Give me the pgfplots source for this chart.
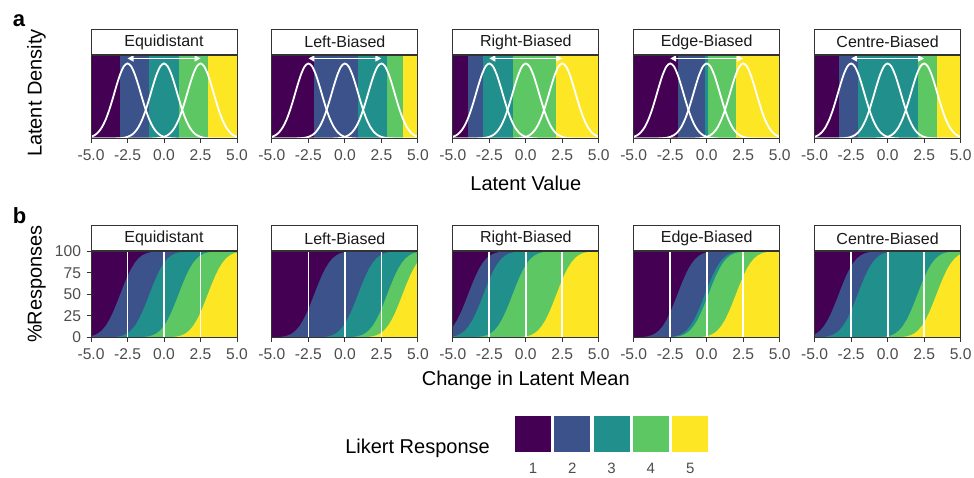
\documentclass[border=0pt]{standalone}
\usepackage{fontspec}
\setmainfont{Liberation Sans}
\usepackage{pgfplots}
\usepackage{pgfplotstable}
\pgfplotsset{compat=1.18}
\usetikzlibrary{arrows.meta}

% viridis palette for the five Likert categories
\definecolor{vir1}{HTML}{440154}
\definecolor{vir2}{HTML}{3B528B}
\definecolor{vir3}{HTML}{21908C}
\definecolor{vir4}{HTML}{5DC863}
\definecolor{vir5}{HTML}{FDE725}
\definecolor{axisgrey}{HTML}{333333}
\definecolor{ticktext}{HTML}{4D4D4D}

% latent density (normal, sd 0.9, peak scaled to 1) against distance from its mean
\pgfplotstableread{
d f
-7.5 0
-4 0.0001
-3.5 0.0005
-3.25 0.0015
-3 0.0039
-2.75 0.0094
-2.5 0.0211
-2.25 0.0439
-2 0.0846
-1.75 0.1510
-1.5 0.2494
-1.25 0.3812
-1 0.5394
-0.75 0.7066
-0.5 0.8570
-0.25 0.9622
0 1
0.25 0.9622
0.5 0.8570
0.75 0.7066
1 0.5394
1.25 0.3812
1.5 0.2494
1.75 0.1510
2 0.0846
2.25 0.0439
2.5 0.0211
2.75 0.0094
3 0.0039
3.25 0.0015
3.5 0.0005
4 0.0001
7.5 0
}\densshape

% percentage of responses above a threshold, against latent mean minus threshold
\pgfplotstableread{
d p
-10 0
-4 0
-3.5 0.005
-3 0.043
-2.75 0.112
-2.5 0.274
-2.25 0.621
-2 1.31
-1.75 2.59
-1.5 4.78
-1.25 8.25
-1 13.33
-0.75 20.23
-0.5 28.92
-0.25 39.06
0 50
0.25 60.94
0.5 71.08
0.75 79.77
1 86.67
1.25 91.75
1.5 95.22
1.75 97.41
2 98.69
2.25 99.379
2.5 99.726
2.75 99.888
3 99.957
3.5 99.995
4 100
10 100
}\cumshape

\pgfplotsset{
  facet/.style={
    scale only axis, width=146pt,
    xmin=-5, xmax=5,
    axis on top,
    axis line style={draw=axisgrey, line width=0.9pt},
    tick align=outside, major tick length=4.5pt,
    tick style={draw=axisgrey, line width=0.9pt},
    xtick={-5,-2.5,0,2.5,5},
    xticklabels={-5.0,-2.5,0.0,2.5,5.0},
    xtick pos=left, ytick pos=left,
    ticklabel style={font=\fontsize{15.6}{18}\selectfont, text=ticktext},
    xticklabel style={yshift=-3pt},
    /pgf/number format/assume math mode=true,
    every axis title/.style={at={(0.5,1)}, anchor=south, draw=axisgrey,
      line width=0.9pt, fill=white, minimum width=146pt, minimum height=25pt,
      inner sep=0pt, font=\fontsize{16}{19}\selectfont, text=black!90},
  },
}

% #1 left edge, #2 strip title, #3-#6 category thresholds
\newcommand{\densitypanel}[6]{%
\begin{axis}[facet, at={(#1pt,-55pt)}, anchor=north west, height=83.5pt,
  ymin=0, ymax=1.113, ytick=\empty, title={#2}]
  \addplot[fill=vir1, draw=none] coordinates {(-5,2) (#3,2)} \closedcycle;
  \addplot[fill=vir2, draw=none] coordinates {(#3,2) (#4,2)} \closedcycle;
  \addplot[fill=vir3, draw=none] coordinates {(#4,2) (#5,2)} \closedcycle;
  \addplot[fill=vir4, draw=none] coordinates {(#5,2) (#6,2)} \closedcycle;
  \addplot[fill=vir5, draw=none] coordinates {(#6,2) (5,2)} \closedcycle;
  \addplot[white, line width=1.8pt, smooth] table[x expr=\thisrow{d}-2.5, y=f] {\densshape};
  \addplot[white, line width=1.8pt, smooth] table[x expr=\thisrow{d}, y=f] {\densshape};
  \addplot[white, line width=1.8pt, smooth] table[x expr=\thisrow{d}+2.5, y=f] {\densshape};
  \addplot[white, line width=1.4pt,
    {Triangle[length=6pt,width=6pt]}-{Triangle[length=6pt,width=6pt]}]
    coordinates {(-2.5,1.067) (2.5,1.067)};
\end{axis}}

% #1 left edge, #2 strip title, #3-#6 category thresholds, #7 y-axis options
\newcommand{\responsepanel}[7]{%
\begin{axis}[facet, at={(#1pt,-251.3pt)}, anchor=north west, height=86pt,
  ymin=0, ymax=100, #7, title={#2}]
  \addplot[fill=vir1, draw=none] coordinates {(-5,100) (5,100)} \closedcycle;
  \addplot[fill=vir2, draw=none] table[x expr=\thisrow{d}+(#3), y=p] {\cumshape} \closedcycle;
  \addplot[fill=vir3, draw=none] table[x expr=\thisrow{d}+(#4), y=p] {\cumshape} \closedcycle;
  \addplot[fill=vir4, draw=none] table[x expr=\thisrow{d}+(#5), y=p] {\cumshape} \closedcycle;
  \addplot[fill=vir5, draw=none] table[x expr=\thisrow{d}+(#6), y=p] {\cumshape} \closedcycle;
  \addplot[white, line width=1.8pt] coordinates {(-2.5,0) (-2.5,100)};
  \addplot[white, line width=1.8pt] coordinates {(0,0) (0,100)};
  \addplot[white, line width=1.8pt] coordinates {(2.5,0) (2.5,100)};
\end{axis}}

\begin{document}
\begin{tikzpicture}
\useasboundingbox (0,0) rectangle (974pt,-477pt);

% row a: latent densities over the response thresholds
\densitypanel{91}{Equidistant}{-3}{-1}{1}{3}
\densitypanel{271.9}{Left-Biased}{-2.1}{0.9}{2.9}{3.95}
\densitypanel{452.8}{Right-Biased}{-3.95}{-2.9}{-0.9}{2.1}
\densitypanel{633.7}{Edge-Biased}{-2}{-0.12}{0.12}{2}
\densitypanel{814.6}{Centre-Biased}{-3.35}{-2.05}{2.05}{3.35}

% row b: response shares as the latent mean shifts
\responsepanel{91}{Equidistant}{-3}{-1}{1}{3}%
  {ytick={0,25,50,75,100}, yticklabels={0,25,50,75,100}, yticklabel style={xshift=-2pt}}
\responsepanel{271.9}{Left-Biased}{-2.1}{0.9}{2.9}{3.95}{ytick=\empty}
\responsepanel{452.8}{Right-Biased}{-3.95}{-2.9}{-0.9}{2.1}{ytick=\empty}
\responsepanel{633.7}{Edge-Biased}{-2}{-0.12}{0.12}{2}{ytick=\empty}
\responsepanel{814.6}{Centre-Biased}{-3.35}{-2.05}{2.05}{3.35}{ytick=\empty}

% panel tags and axis titles
\node[anchor=base west, inner sep=0pt, font=\fontsize{22}{26}\selectfont\bfseries] at (12.7pt,-26.7pt) {a};
\node[anchor=base west, inner sep=0pt, font=\fontsize{22}{26}\selectfont\bfseries] at (12.7pt,-223.3pt) {b};
\node[anchor=base, inner sep=0pt, font=\fontsize{20}{24}\selectfont] at (525.8pt,-190pt) {Latent Value};
\node[anchor=base, inner sep=0pt, font=\fontsize{20}{24}\selectfont] at (525.8pt,-385pt) {Change in Latent Mean};
\node[rotate=90, anchor=base, inner sep=0pt, font=\fontsize{20}{24}\selectfont] at (41.5pt,-93pt) {Latent Density};
\node[rotate=90, anchor=base, inner sep=0pt, font=\fontsize{20}{24}\selectfont] at (41.5pt,-284pt) {\%Responses};

% legend
\node[anchor=base east, inner sep=0pt, font=\fontsize{20}{24}\selectfont] at (490pt,-453.5pt) {Likert Response};
\foreach \k/\c/\l in {0/vir1/1, 1/vir2/2, 2/vir3/3, 3/vir4/4, 4/vir5/5} {
  \fill[\c] (515pt+\k*39.3pt,-416pt) rectangle ++(36pt,-36pt);
  \node[anchor=base, inner sep=0pt, font=\fontsize{15}{18}\selectfont, text=ticktext]
    at (533pt+\k*39.3pt,-473.5pt) {\l};
}
\end{tikzpicture}
\end{document}
